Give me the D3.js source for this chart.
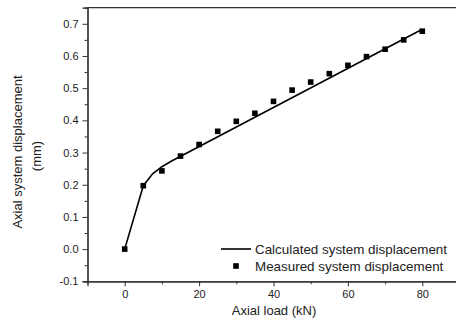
<!DOCTYPE html>
<html>
<head>
<meta charset="utf-8">
<script src="https://cdn.jsdelivr.net/npm/d3@7"></script>
<style>
  body { margin: 0; background: #fff; }
  svg { display: block; font-family: Arial, "Liberation Sans", sans-serif; }
</style>
</head>
<body>
<svg></svg>
<script>
// measured points
var loads = [0, 5, 10, 15, 20, 25, 30, 35, 40, 45, 50, 55, 60, 65, 70, 75, 80];
var measured = [0, 0.197, 0.243, 0.289, 0.325, 0.366, 0.397, 0.422, 0.459, 0.494, 0.519, 0.545, 0.571, 0.598, 0.621, 0.65, 0.677];

// calculated curve
var calcLoads = [0, 5, 7.5, 10, 12.5, 80];
var calculated = [0, 0.197, 0.234, 0.256, 0.273, 0.683];

var xTicks = [0, 20, 40, 60, 80];
var yTicks = [-0.1, 0, 0.1, 0.2, 0.3, 0.4, 0.5, 0.6, 0.7];

var w = 456,
    h = 326;

var vis = d3.select("svg")
    .attr("width", w)
    .attr("height", h);

var x = d3.scaleLinear().domain([-10, 90]).range([87.5, 459.5]);
var y = d3.scaleLinear().domain([-0.1, 0.75]).range([281.3, 7.7]);

var axisColor = "#333";

// top frame line
vis.append("line")
    .attr("x1", x(-10)).attr("x2", x(90))
    .attr("y1", y(0.75)).attr("y2", y(0.75))
    .attr("stroke", axisColor)
    .attr("stroke-width", 1.2);

// minor ticks
var yMinor = vis.append("g").attr("transform", "translate(" + x(-10) + ",0)")
    .call(d3.axisLeft(y).tickValues(d3.range(-0.05, 0.76, 0.1)).tickSize(3).tickFormat(""));
var xMinor = vis.append("g").attr("transform", "translate(0," + y(-0.1) + ")")
    .call(d3.axisBottom(x).tickValues([10, 30, 50, 70]).tickSize(3).tickFormat(""));

var yAxis = vis.append("g").attr("transform", "translate(" + x(-10) + ",0)")
    .call(d3.axisLeft(y).tickValues(yTicks).tickSize(5).tickPadding(4).tickFormat(d3.format(".1f")));
var xAxis = vis.append("g").attr("transform", "translate(0," + y(-0.1) + ")")
    .call(d3.axisBottom(x).tickValues(xTicks).tickSize(5).tickPadding(4));

[yMinor, xMinor, yAxis, xAxis].forEach(function(g) {
  g.selectAll("path").attr("stroke", axisColor).attr("stroke-width", 1.2);
  g.selectAll("line").attr("stroke", axisColor);
  g.selectAll("text").attr("fill", "#222").style("font-size", "11px")
    .style("font-family", "Arial, 'Liberation Sans', sans-serif");
});
yAxis.selectAll("text").text(function(d) { return d < 0 ? "-" + Math.abs(d).toFixed(1) : d.toFixed(1); });

// calculated line
var line = d3.line()
    .x(function(d) { return x(d[0]); })
    .y(function(d) { return y(d[1]); });

vis.append("path")
    .datum(d3.zip(calcLoads, calculated))
    .attr("d", line)
    .attr("fill", "none")
    .attr("stroke", "#000")
    .attr("stroke-width", 1.6);

// measured squares
var s = 5.6;
vis.selectAll("rect.pt")
    .data(d3.zip(loads, measured))
    .enter().append("rect")
    .attr("class", "pt")
    .attr("x", function(d) { return x(d[0]) - s/2; })
    .attr("y", function(d) { return y(d[1]) - s/2; })
    .attr("width", s)
    .attr("height", s)
    .attr("fill", "#000");

// legend
var legend = vis.append("g").style("font-size", "13.4px").attr("fill", "#222");
legend.append("line")
    .attr("x1", 221).attr("x2", 251)
    .attr("y1", 249).attr("y2", 249)
    .attr("stroke", "#000").attr("stroke-width", 1.6);
legend.append("text").attr("x", 255).attr("y", 253.5).text("Calculated system displacement");
legend.append("rect")
    .attr("x", 236 - s/2).attr("y", 266 - s/2)
    .attr("width", s).attr("height", s).attr("fill", "#000");
legend.append("text").attr("x", 255).attr("y", 270.5).text("Measured system displacement");

// axis titles
vis.append("text")
    .attr("x", 274).attr("y", 315)
    .attr("text-anchor", "middle")
    .style("font-size", "13px")
    .attr("fill", "#222")
    .text("Axial load (kN)");

var yt = vis.append("text")
    .attr("transform", "translate(0,152) rotate(-90)")
    .attr("text-anchor", "middle")
    .style("font-size", "13px")
    .attr("fill", "#222");
yt.append("tspan").attr("x", 0).attr("y", 22).text("Axial system displacement");
yt.append("tspan").attr("x", -4).attr("y", 41).text("(mm)");
</script>
</body>
</html>
